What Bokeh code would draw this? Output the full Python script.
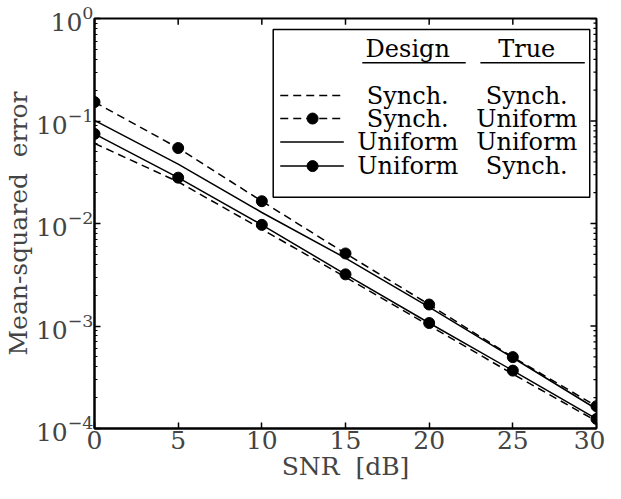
from bokeh.plotting import figure
from bokeh.models import FixedTicker
from bokeh.core.properties import value
from bokeh.embed import file_html
from bokeh.resources import INLINE

# ---- data ----
snr = [0, 5, 10, 15, 20, 25, 30]
mse_design_sync_true_sync = [0.0605, 0.0255, 0.0088, 0.0030, 0.00101, 0.00034, 0.000118]
mse_design_sync_true_unif = [0.153, 0.0545, 0.0165, 0.0051, 0.00162, 0.000497, 0.000165]
mse_design_unif_true_unif = [0.1016, 0.038, 0.0128, 0.0046, 0.00153, 0.00049, 0.000155]
mse_design_unif_true_sync = [0.0748, 0.028, 0.0097, 0.00319, 0.00107, 0.000367, 0.000124]
x_ticks = [0, 5, 10, 15, 20, 25, 30]
y_decades = [-4, -3, -2, -1, 0]
legend_design = ["Synch.", "Synch.", "Uniform", "Uniform"]
legend_true = ["Synch.", "Uniform", "Uniform", "Synch."]

FONT = "DejaVu Serif"
X0, X1 = 0, 30
LY0, LY1 = -4, 0

p = figure(width=605, height=483, y_axis_type="log",
           x_range=(X0, X1), y_range=(10 ** LY0, 10 ** LY1),
           output_backend="svg", toolbar_location=None,
           min_border_left=80, min_border_right=9, min_border_top=18, min_border_bottom=10)
p.grid.visible = False
p.outline_line_color = "black"
p.outline_line_width = 2
p.background_fill_color = "white"
p.border_fill_color = "white"

# axes
p.xaxis.ticker = FixedTicker(ticks=x_ticks)
p.xaxis.axis_label = "SNR\u00a0\u00a0[dB]"
p.yaxis.axis_label = "Mean-squared\u00a0\u00a0error"
for ax in (p.xaxis, p.yaxis):
    ax.axis_label_text_font = FONT
    ax.axis_label_text_font_style = "normal"
    ax.axis_label_text_font_size = "25px"
    ax.major_label_text_font = FONT
    ax.major_label_text_font_size = "25px"
    ax.axis_line_width = 2
    ax.major_tick_line_width = 1.5
    ax.minor_tick_line_width = 1.2
    ax.major_tick_in = 6
    ax.major_tick_out = 0
    ax.minor_tick_in = 3
    ax.minor_tick_out = 0
    ax.major_label_standoff = 2
    ax.axis_label_standoff = 0
p.xaxis.minor_tick_line_color = None
p.yaxis.major_label_standoff = 1

# ---- ticks on the top and right frame edges (inward) ----
def fx(f):
    return X0 + f * (X1 - X0)

def fy(f):
    return 10 ** (LY1 - f * (LY1 - LY0))

tick_dy = 0.015   # fraction of frame height
tick_dx = 0.012   # fraction of frame width
p.segment(x0=x_ticks, x1=x_ticks, y0=[fy(0)] * len(x_ticks), y1=[fy(tick_dy)] * len(x_ticks),
          line_color="black", line_width=1.5)
maj_y = [10.0 ** d for d in y_decades]
p.segment(x0=[X1] * len(maj_y), x1=[fx(1 - tick_dx)] * len(maj_y), y0=maj_y, y1=maj_y,
          line_color="black", line_width=1.5)
min_y = [m * 10.0 ** d for d in y_decades[:-1] for m in range(2, 10)]
p.segment(x0=[X1] * len(min_y), x1=[fx(1 - tick_dx / 2)] * len(min_y), y0=min_y, y1=min_y,
          line_color="black", line_width=1.2)

DASH = "8 5"
LW = 1.5
MS = 11

p.line(snr, mse_design_sync_true_sync, line_color="black", line_width=LW, line_dash=DASH)
p.line(snr, mse_design_sync_true_unif, line_color="black", line_width=LW, line_dash=DASH)
p.scatter(snr, mse_design_sync_true_unif, size=MS, color="black")
p.line(snr, mse_design_unif_true_unif, line_color="black", line_width=LW)
p.line(snr, mse_design_unif_true_sync, line_color="black", line_width=LW)
p.scatter(snr, mse_design_unif_true_sync, size=MS, color="black")

# ---- custom table legend (positions as fractions of the frame) ----
p.quad(left=[fx(0.356)], right=[fx(0.9865)], top=[fy(0.027)], bottom=[fy(0.436)],
       fill_color="white", line_color="black", line_width=1.5)

col1, col2 = 0.624, 0.861
p.text(x=[fx(col1), fx(col2)], y=[fy(0.075), fy(0.075)], text=["Design", "True"],
       text_font=value(FONT), text_font_size="24px", text_align="center",
       text_baseline="middle", text_color="black")
p.segment(x0=[fx(0.5335), fx(0.7687)], x1=[fx(0.7395), fx(0.9767)],
          y0=[fy(0.108)] * 2, y1=[fy(0.108)] * 2, line_color="black", line_width=1.5)

rows = [0.188, 0.244, 0.301, 0.360]
p.text(x=[fx(col1)] * 4 + [fx(col2)] * 4, y=[fy(r) for r in rows] * 2,
       text=legend_design + legend_true,
       text_font=value(FONT), text_font_size="24px", text_align="center",
       text_baseline="middle", text_color="black")
sx0, sx1, sdot = 0.370, 0.4966, 0.4344
dashes = [DASH, DASH, "solid", "solid"]
for r, d in zip(rows, dashes):
    p.line([fx(sx0), fx(sx1)], [fy(r), fy(r)], line_color="black", line_width=LW, line_dash=d)
p.scatter([fx(sdot), fx(sdot)], [fy(rows[1]), fy(rows[3])], size=MS, color="black")

open("out.html", "w").write(file_html(p, INLINE))
